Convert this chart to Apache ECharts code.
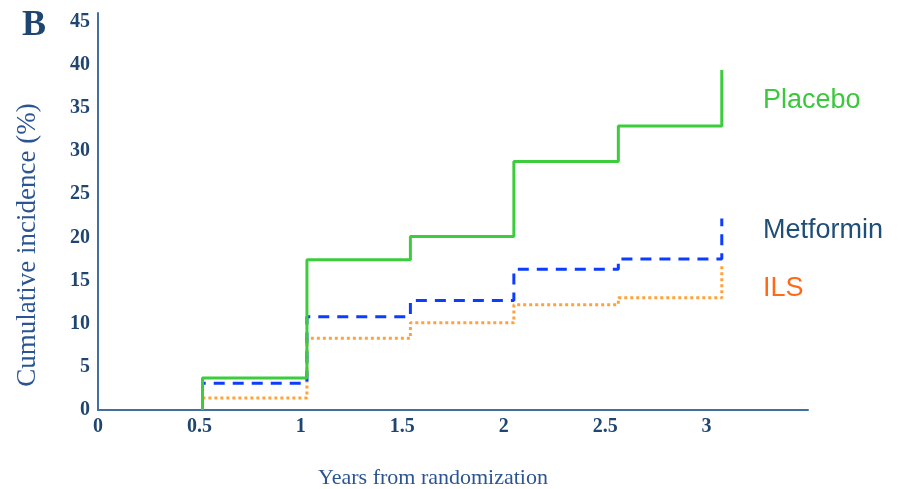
<!DOCTYPE html>
<html>
<head>
<meta charset="utf-8">
<script src="https://cdn.jsdelivr.net/npm/echarts@6/dist/echarts.min.js"></script>
<style>html,body{margin:0;padding:0;background:#fff}#c{width:899px;height:489px}</style>
</head>
<body>
<div id="c"></div>
<script>
// Visit times (years from randomization)
const times = [0.515, 1.03, 1.54, 2.05, 2.565, 3.075];
// Cumulative incidence (%) at each step
const placebo = [3.7, 17.4, 20.1, 28.8, 32.9, 39.4];
const metformin = [3.1, 10.8, 12.7, 16.3, 17.5, 22.2];
const ils = [1.4, 8.3, 10.1, 12.2, 13.0, 17.0];
const seriesNames = ['Placebo', 'Metformin', 'ILS'];

function stepData(vals) {
  const d = [[times[0], 0]];
  for (let i = 0; i < times.length; i++) d.push([times[i], vals[i]]);
  return d;
}

const serif = '"Liberation Serif", "Times New Roman", serif';
const sans = '"Liberation Sans", Arial, sans-serif';
const axisCol = '#41709f';
const labelCol = '#1f4571';

const chart = echarts.init(document.getElementById('c'));
chart.setOption({
  animation: false,
  backgroundColor: '#fff',
  grid: { left: 98, right: 91, top: 13, bottom: 79 },
  xAxis: {
    type: 'value', min: 0, max: 3.5, interval: 0.5,
    axisLine: { show: true, lineStyle: { color: axisCol, width: 2 } },
    axisTick: { show: false },
    splitLine: { show: false },
    axisLabel: { showMaxLabel: false, margin: 7, color: labelCol, fontFamily: serif, fontWeight: 'bold', fontSize: 20 }
  },
  yAxis: {
    type: 'value', min: 0, max: 46, interval: 5,
    axisLine: { show: true, lineStyle: { color: axisCol, width: 2 } },
    axisTick: { show: false },
    splitLine: { show: false },
    axisLabel: { showMaxLabel: false, margin: 8, color: labelCol, fontFamily: serif, fontWeight: 'bold', fontSize: 20, padding: [3, 0, 0, 0] }
  },
  series: [
    { name: seriesNames[2], type: 'line', step: 'end', data: stepData(ils), symbol: 'none',
      lineStyle: { color: '#ffa23a', width: 3, type: [3, 3] }, z: 2 },
    { name: seriesNames[1], type: 'line', step: 'end', data: stepData(metformin), symbol: 'none',
      lineStyle: { color: '#0b3cff', width: 3, type: [11, 8] }, z: 3 },
    { name: seriesNames[0], type: 'line', step: 'end', data: stepData(placebo), symbol: 'none',
      lineStyle: { color: '#3ccc3c', width: 3 }, z: 4 }
  ],
  graphic: [
    { type: 'text', left: 22, top: 8, style: { text: 'B', font: 'bold 36px ' + serif, fill: '#1f4571' } },
    { type: 'text', x: 433, y: 478, style: { text: 'Years from randomization', font: '22px ' + serif, fill: '#2b5592', textAlign: 'center', textVerticalAlign: 'middle' } },
    { type: 'text', x: 28, y: 245, rotation: Math.PI / 2, style: { text: 'Cumulative incidence (%)', font: '27px ' + serif, fill: '#2b5592', textAlign: 'center', textVerticalAlign: 'middle' } },
    { type: 'text', x: 763, y: 101, style: { text: seriesNames[0], font: '27px ' + sans, fill: '#3cc83c', textVerticalAlign: 'middle' } },
    { type: 'text', x: 763, y: 231, style: { text: seriesNames[1], font: '27px ' + sans, fill: '#1f4e79', textVerticalAlign: 'middle' } },
    { type: 'text', x: 763, y: 289, style: { text: seriesNames[2], font: '27px ' + sans, fill: '#ff6a13', textVerticalAlign: 'middle' } }
  ]
});
</script>
</body>
</html>
